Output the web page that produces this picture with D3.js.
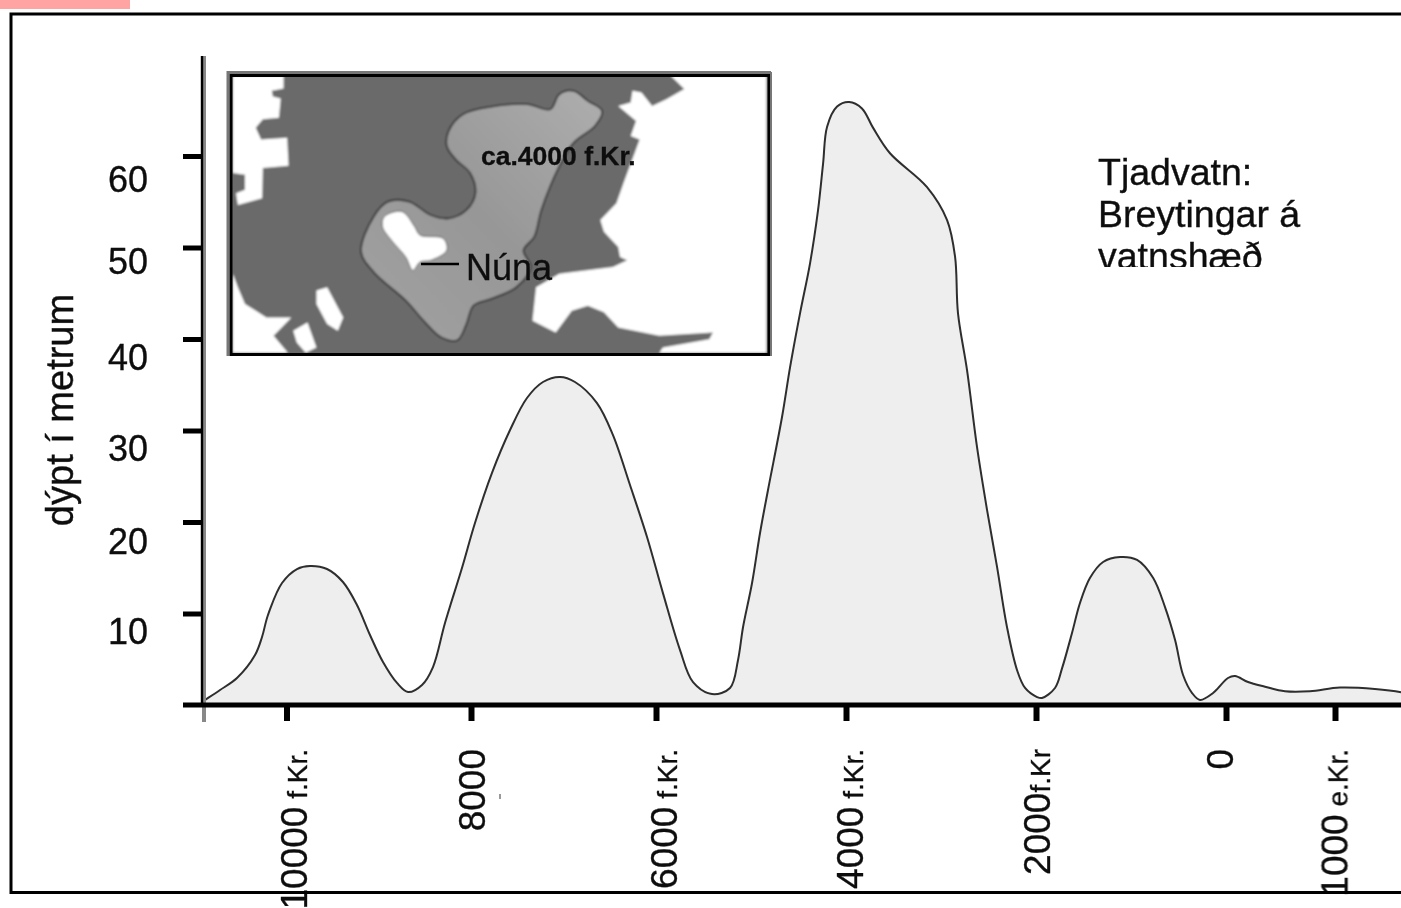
<!DOCTYPE html>
<html><head><meta charset="utf-8">
<script src="https://cdn.jsdelivr.net/npm/d3@7"></script>
<style>html,body{margin:0;padding:0;background:#fff;overflow:hidden}svg{display:block}text{font-family:"Liberation Sans",Arial,sans-serif;fill:#111;stroke:#111;stroke-width:0.35px}</style>
</head><body><div id="c"></div>
<script>
const years=[-10897,-10875,-10714,-10532,-10338,-10263,-10199,-10048,-9886,-9745,-9561,-9388,-9236,-9095,-8954,-8802,-8683,-8531,-8412,-8282,-8098,-7957,-7773,-7578,-7395,-7222,-7038,-6876,-6638,-6465,-6281,-6097,-5926,-5747,-5610,-5410,-5221,-5137,-5084,-4989,-4905,-4821,-4673,-4589,-4484,-4378,-4294,-4241,-4199,-4094,-3968,-3832,-3716,-3537,-3147,-2936,-2852,-2821,-2726,-2621,-2515,-2410,-2305,-2199,-2115,-1989,-1937,-1800,-1726,-1621,-1537,-1431,-1294,-1115,-936,-768,-642,-536,-452,-357,-273,-136,18,83,202,358,541,770,1045,1366,1605];
const depths=[0.4,0.55,1.64,2.95,5.46,7.43,9.84,13.33,14.86,15.19,14.86,13.44,10.93,7.65,4.7,2.41,1.42,2.19,4.15,8.96,14.97,19.89,25.37,30.05,33.55,35.3,35.85,35.3,33.0,29.5,24.04,18.36,12.2,6.0,2.5,1.2,1.86,4.9,8.5,13.33,18.8,23.5,31.5,36.9,42.8,48.3,54.1,59.2,63.2,65.4,65.9,65.2,63.1,60.3,56.6,53.0,49.0,42.8,36.6,28.2,21.3,15.1,8.5,3.8,1.86,0.87,0.77,1.86,4.0,7.87,11.15,13.9,15.63,16.17,15.85,13.9,10.7,7.1,3.28,1.31,0.55,1.31,2.95,3.17,2.51,2.0,1.5,1.5,1.9,1.75,1.4];
const xTickValues=[-10000,-8000,-6000,-4000,-2000,0,1000];
const xTickMain=["10000","8000","6000","4000","2000","0","1000"];
const xTickSuffix=[" f.Kr.",""," f.Kr."," f.Kr.","f.Kr",""," e.Kr."];
const yTickValues=[10,20,30,40,50,60];
const yTitle="dýpt í metrum";
const noteLines=["Tjadvatn:","Breytingar á","vatnshæð"];
const mapLabelDate="ca.4000 f.Kr.";
const mapLabelNow="Núna";
// inset map outlines, in the map's own grid units
const mapWhite=[
[[36,50],[178,50],[178,88],[145,95],[148,112],[170,118],[165,175],[120,180],[100,205],[115,240],[188,235],[192,318],[120,325],[118,415],[50,435],[45,400],[70,390],[70,345],[36,340]],
[[1262,50],[1300,90],[1250,120],[1210,140],[1180,100],[1155,95],[1150,130],[1115,140],[1165,185],[1150,230],[1175,240],[1130,370],[1110,430],[1065,480],[1075,515],[1115,560],[1120,590],[1140,600],[1100,620],[950,640],[885,680],[875,780],[940,815],[985,750],[1030,735],[1075,755],[1115,800],[1230,825],[1380,815],[1370,835],[1240,860],[1230,875],[1530,875],[1530,50]],
[[36,640],[50,680],[70,730],[130,770],[200,770],[150,825],[190,875],[36,875]],
[[270,690],[300,680],[345,770],[330,810],[300,790],[270,730]],
[[205,810],[245,785],[270,860],[240,875],[215,845]]
];
const mapLake=[[640,215],[680,165],[760,142],[860,135],[925,150],[950,105],[990,95],[1030,125],[1070,155],[1050,200],[990,250],[950,320],[900,450],[880,530],[850,570],[870,620],[830,680],[760,715],[710,735],[690,790],[665,838],[620,830],[570,780],[520,720],[430,635],[395,575],[430,470],[470,425],[530,425],[590,465],[640,475],[690,450],[715,400],[700,340],[660,300],[635,260]];
const mapIsland=[[460,470],[510,455],[545,500],[560,525],[625,535],[635,570],[590,600],[560,605],[540,630],[520,590],[480,540],[455,500]];

const W=1401,H=908;
const svg=d3.select("#c").append("svg").attr("width",W).attr("height",H);
const defs=svg.append("defs");
defs.append("filter").attr("id","soft").attr("x","-5%").attr("y","-5%").attr("width","110%").attr("height","110%")
 .append("feGaussianBlur").attr("stdDeviation",0.6);
defs.append("filter").attr("id","softer").attr("x","-5%").attr("y","-5%").attr("width","110%").attr("height","110%")
 .append("feGaussianBlur").attr("stdDeviation",1.2);
const lakeGrad=defs.append("linearGradient").attr("id","lakeGrad").attr("x1",1).attr("y1",0).attr("x2",0).attr("y2",1);
lakeGrad.append("stop").attr("offset","0").attr("stop-color","#aeaeae");
lakeGrad.append("stop").attr("offset","0.5").attr("stop-color","#979797");
lakeGrad.append("stop").attr("offset","1").attr("stop-color","#a2a2a2");
defs.append("clipPath").attr("id","noteClip").append("rect").attr("x",1080).attr("y",140).attr("width",300).attr("height",127);
defs.append("clipPath").attr("id","mapClip").append("rect").attr("x",231).attr("y",75).attr("width",538).attr("height",280);

const x=d3.scaleLinear().domain([-10897,-10000,-8000,-6000,-4000,-2000,0,1000,1605]).range([203,286.5,471,656,846,1036,1226,1335,1401]);
const y=d3.scaleLinear().domain([0,60]).range([705,156]);

svg.append("rect").attr("x",0).attr("y",0).attr("width",130).attr("height",9).attr("fill","#ffa3a3");

const root=svg.append("g").attr("filter","url(#soft)");
const pts=years.map((v,i)=>[v,depths[i]]);
const curve=d3.curveCatmullRom.alpha(0.5);
root.append("path").datum(pts).attr("fill","#eeeeee")
 .attr("d",d3.area().x(d=>x(d[0])).y0(y(0)).y1(d=>y(d[1])).curve(curve));
root.append("path").datum(pts).attr("fill","none").attr("stroke","#2e2e2e").attr("stroke-width",2)
 .attr("d",d3.line().x(d=>x(d[0])).y(d=>y(d[1])).curve(curve));

// y axis
const yOffset={10:30,20:31,30:30,40:30,50:26,60:35};
const ya=root.append("g").attr("transform","translate(203,0)")
 .call(d3.axisLeft(y).tickValues(yTickValues).tickSize(20).tickSizeOuter(0));
ya.select(".domain").remove();
ya.selectAll(".tick line").attr("stroke","#000").attr("stroke-width",5);
ya.selectAll(".tick text").attr("x",-55).attr("dy",0).attr("y",d=>yOffset[d]).attr("text-anchor","end").attr("font-size",36).attr("font-family",null);
root.append("line").attr("x1",204).attr("x2",204).attr("y1",56).attr("y2",722).attr("stroke","#888").attr("stroke-width",4);
root.append("line").attr("x1",202).attr("x2",202).attr("y1",56).attr("y2",706).attr("stroke","#000").attr("stroke-width",2.4);

// x axis
const xLabelOffset=[20,13,20,16,13,6,12];
const xa=root.append("g").attr("transform","translate(0,706)")
 .call(d3.axisBottom(x).tickValues(xTickValues).tickSize(15).tickSizeOuter(0));
xa.select(".domain").remove();
xa.selectAll(".tick line").attr("stroke","#000").attr("stroke-width",6);
xa.selectAll(".tick text").each(function(d,i){
  const t=d3.select(this).text(null).attr("dy",null).attr("y",null).attr("font-family",null)
   .attr("text-anchor","end").attr("transform",`translate(${xLabelOffset[i]},43) rotate(-90)`);
  t.append("tspan").attr("font-size",37).text(xTickMain[i]);
  if(xTickSuffix[i]) t.append("tspan").attr("font-size",28).style("white-space","pre").text(xTickSuffix[i]);
});
root.append("line").attr("x1",183).attr("x2",W).attr("y1",y(0)).attr("y2",y(0)).attr("stroke","#000").attr("stroke-width",5);
root.append("rect").attr("x",499).attr("y",794).attr("width",2).attr("height",5).attr("fill","#999");

// y title
root.append("text").attr("transform","translate(73,410) rotate(-90)").attr("text-anchor","middle").attr("font-size",38).text(yTitle);

// note, cut off at its lower edge
const note=root.append("g").attr("clip-path","url(#noteClip)");
note.selectAll("text").data(noteLines).join("text").attr("x",1098).attr("y",(d,i)=>185+i*42).attr("font-size",37.5).text(d=>d);

// inset map
const mx=d3.scaleLinear().domain([28,1540]).range([230,770]);
const my=d3.scaleLinear().domain([42,882]).range([73,355]);
const poly=d3.line().x(d=>mx(d[0])).y(d=>my(d[1])).curve(d3.curveLinearClosed);
const smooth=d3.line().x(d=>mx(d[0])).y(d=>my(d[1])).curve(d3.curveCatmullRomClosed.alpha(0.5));
const map=svg.append("g");
const mapInner=map.append("g").attr("clip-path","url(#mapClip)").append("g").attr("filter","url(#softer)");
mapInner.append("rect").attr("x",225).attr("y",70).attr("width",550).attr("height",290).attr("fill","#6b6b6b");
mapInner.selectAll(".w").data(mapWhite).join("path").attr("class","w").attr("fill","#fff").attr("d",poly);
mapInner.append("path").datum(mapLake).attr("fill","url(#lakeGrad)").attr("stroke","#333").attr("stroke-width",1.8).attr("d",smooth);
mapInner.append("path").datum(mapIsland).attr("fill","#fff").attr("stroke","#444").attr("stroke-width",0.8).attr("d",smooth);
const mapFrame=map.append("g").attr("filter","url(#soft)");
mapFrame.append("path").attr("d",d3.line()([[228,356],[228,72.5],[771,72.5]])).attr("fill","none").attr("stroke","#777").attr("stroke-width",3);
mapFrame.append("rect").attr("x",231).attr("y",75.5).attr("width",538).attr("height",279).attr("fill","none").attr("stroke","#000").attr("stroke-width",3);
mapFrame.append("line").attr("x1",771).attr("x2",771).attr("y1",72).attr("y2",356).attr("stroke","#777").attr("stroke-width",2);
mapFrame.append("line").attr("x1",421).attr("x2",459).attr("y1",264).attr("y2",264).attr("stroke","#000").attr("stroke-width",2.5);
mapFrame.append("text").attr("x",481).attr("y",165).attr("font-size",26.5).attr("font-weight","bold").text(mapLabelDate);
mapFrame.append("text").attr("x",466).attr("y",280).attr("font-size",36).text(mapLabelNow);

// outer frame, open on the right
svg.append("path").attr("d",d3.line()([[W,14],[11,14],[11,892.5],[W,892.5]])).attr("fill","none").attr("stroke","#000").attr("stroke-width",3);
</script></body></html>
